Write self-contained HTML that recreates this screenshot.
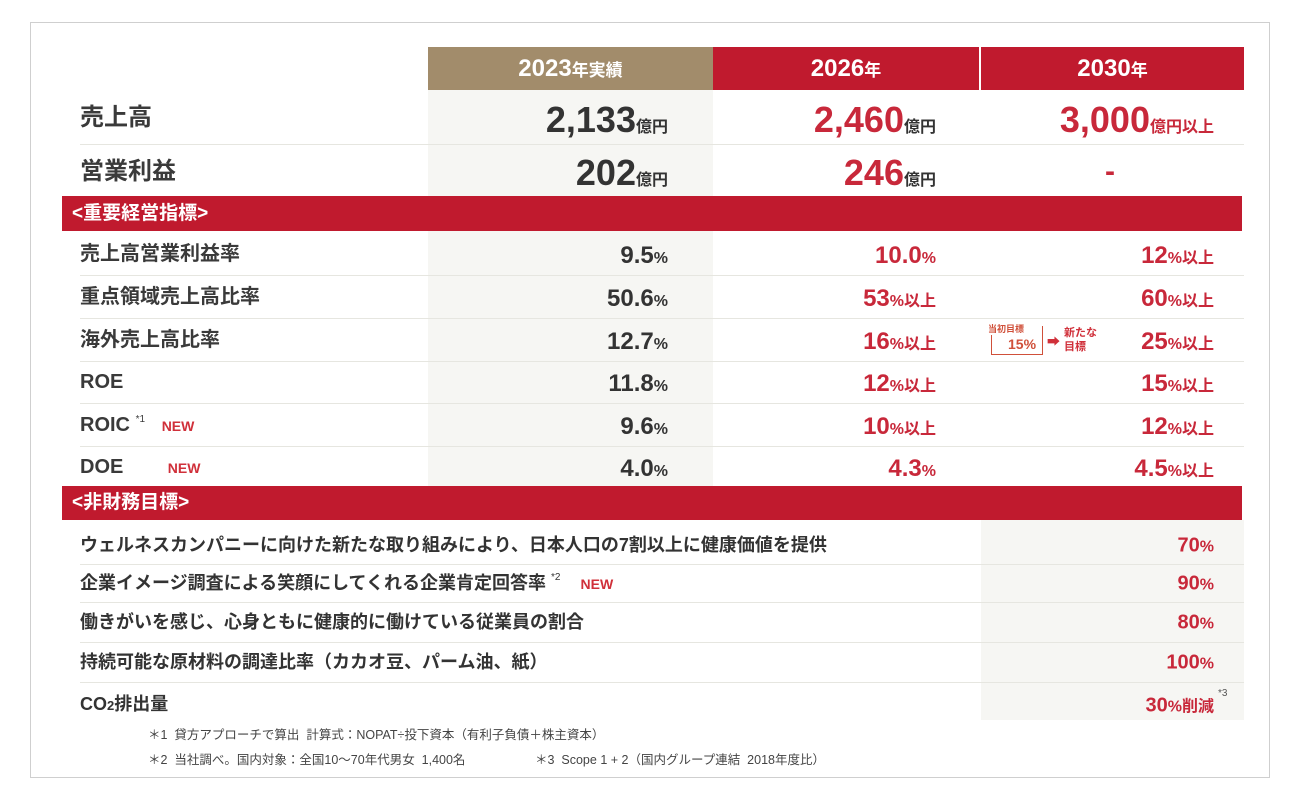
<!DOCTYPE html>
<html><head><meta charset="utf-8"><style>
body{margin:0;width:1300px;height:800px;background:#fff;position:relative;overflow:hidden;font-family:"Liberation Sans","Noto Sans CJK JP",sans-serif;color:#333}
.a{position:absolute;white-space:nowrap}
.box{position:absolute;left:30px;top:22px;width:1238px;height:754px;border:1px solid #cfcfcf}
.col{position:absolute;background:#f6f6f3}
.hd{position:absolute;top:47px;height:43px;color:#fff;font-weight:bold;font-size:24px;line-height:43px;text-align:center}
.band{position:absolute;left:62px;width:1180px;background:#c01a2e;color:#fff;font-weight:bold;font-size:19px;padding-left:10px;box-sizing:border-box}
.lb{position:absolute;left:80px;font-weight:bold;font-size:20px;color:#3a3a3a;transform:translateY(-50%);line-height:1;white-space:nowrap}
.sp{position:relative;top:-9px;font-size:10px;font-weight:normal}
.v{position:absolute;font-weight:bold;transform:translateY(-50%);text-align:right;white-space:nowrap}
.r{color:#c8283a}
.u{font-size:16px}
.new{color:#d0303a;font-size:14px;font-weight:bold}
.nf{position:absolute;left:80px;font-weight:bold;font-size:18px;color:#333;transform:translateY(-50%);white-space:nowrap;line-height:1}
.line{position:absolute;height:1px;background:#e6e6e0}
.fn{position:absolute;font-size:12.5px;color:#444;white-space:nowrap}
</style></head><body>
<div class="box"></div>
<div class="col" style="left:428px;top:90px;width:285px;height:106px"></div>
<div class="col" style="left:428px;top:231px;width:285px;height:255px"></div>
<div class="col" style="left:981px;top:520px;width:263px;height:200px"></div>
<div class="line" style="left:80px;top:144px;width:1164px"></div>
<div class="line" style="left:80px;top:275px;width:1164px"></div>
<div class="line" style="left:80px;top:318px;width:1164px"></div>
<div class="line" style="left:80px;top:361px;width:1164px"></div>
<div class="line" style="left:80px;top:403px;width:1164px"></div>
<div class="line" style="left:80px;top:446px;width:1164px"></div>
<div class="line" style="left:80px;top:564px;width:1164px"></div>
<div class="line" style="left:80px;top:602px;width:1164px"></div>
<div class="line" style="left:80px;top:642px;width:1164px"></div>
<div class="line" style="left:80px;top:682px;width:1164px"></div>
<div class="hd" style="left:428px;width:285px;background:#a28c6b">2023<span style="font-size:17px">年実績</span></div>
<div class="hd" style="left:713px;width:266px;background:#c01a2e">2026<span style="font-size:17px">年</span></div>
<div class="hd" style="left:981px;width:263px;background:#c01a2e">2030<span style="font-size:17px">年</span></div>

<div class="lb" style="top:118px;font-size:24px">売上高</div>
<div class="lb" style="top:172px;font-size:24px">営業利益</div>
<div class="v" style="right:632px;top:120px;font-size:36px">2,133<span class="u">億円</span></div>
<div class="v" style="right:632px;top:173px;font-size:36px">202<span class="u">億円</span></div>
<div class="v r" style="right:364px;top:120px;font-size:36px">2,460<span class="u" style="color:#333">億円</span></div>
<div class="v r" style="right:364px;top:173px;font-size:36px">246<span class="u" style="color:#333">億円</span></div>
<div class="v r" style="right:86px;top:120px;font-size:36px">3,000<span class="u">億円以上</span></div>
<div class="v r" style="left:1105px;top:172px;font-size:30px">-</div>

<div class="band" style="top:196px;height:35px;line-height:35px">&lt;重要経営指標&gt;</div>
<div class="lb" style="top:254px">売上高営業利益率</div>
<div class="lb" style="top:297px">重点領域売上高比率</div>
<div class="lb" style="top:340px">海外売上高比率</div>
<div class="lb" style="top:382px">ROE</div>
<div class="lb" style="top:425px">ROIC <span class="sp">*1</span> &nbsp;&nbsp;<span class="new">NEW</span></div>
<div class="lb" style="top:467px">DOE &nbsp;&nbsp;&nbsp;&nbsp;&nbsp;&nbsp;&nbsp;<span class="new">NEW</span></div>

<div class="v" style="right:632px;top:256px;font-size:24px">9.5<span class="u">%</span></div>
<div class="v" style="right:632px;top:299px;font-size:24px">50.6<span class="u">%</span></div>
<div class="v" style="right:632px;top:342px;font-size:24px">12.7<span class="u">%</span></div>
<div class="v" style="right:632px;top:384px;font-size:24px">11.8<span class="u">%</span></div>
<div class="v" style="right:632px;top:427px;font-size:24px">9.6<span class="u">%</span></div>
<div class="v" style="right:632px;top:469px;font-size:24px">4.0<span class="u">%</span></div>

<div class="v r" style="right:364px;top:256px;font-size:24px">10.0<span class="u">%</span></div>
<div class="v r" style="right:364px;top:299px;font-size:24px">53<span class="u">%以上</span></div>
<div class="v r" style="right:364px;top:342px;font-size:24px">16<span class="u">%以上</span></div>
<div class="v r" style="right:364px;top:384px;font-size:24px">12<span class="u">%以上</span></div>
<div class="v r" style="right:364px;top:427px;font-size:24px">10<span class="u">%以上</span></div>
<div class="v r" style="right:364px;top:469px;font-size:24px">4.3<span class="u">%</span></div>

<div class="v r" style="right:86px;top:256px;font-size:24px">12<span class="u">%以上</span></div>
<div class="v r" style="right:86px;top:299px;font-size:24px">60<span class="u">%以上</span></div>
<div class="v r" style="right:86px;top:342px;font-size:24px">25<span class="u">%以上</span></div>
<div class="v r" style="right:86px;top:384px;font-size:24px">15<span class="u">%以上</span></div>
<div class="v r" style="right:86px;top:427px;font-size:24px">12<span class="u">%以上</span></div>
<div class="v r" style="right:86px;top:469px;font-size:24px">4.5<span class="u">%以上</span></div>

<div class="a" style="left:991px;top:326px;width:50px;height:28px;border:1.5px solid #d0503a;border-top:none"></div>
<div class="a" style="left:988px;top:322px;font-size:9px;font-weight:bold;color:#d0503a;background:#fff">当初目標</div>
<div class="a" style="left:1008px;top:336px;font-size:14px;font-weight:bold;color:#d0503a">15%</div>
<div class="a" style="left:1047px;top:331px;font-size:13px;color:#d0303a">➡</div>
<div class="a" style="left:1064px;top:326px;font-size:11px;font-weight:bold;color:#d0303a;line-height:14px">新たな<br>目標</div>

<div class="band" style="top:486px;height:34px;line-height:34px">&lt;非財務目標&gt;</div>
<div class="nf" style="top:545px">ウェルネスカンパニーに向けた新たな取り組みにより、日本人口の7割以上に健康価値を提供</div>
<div class="nf" style="top:583px">企業イメージ調査による笑顔にしてくれる企業肯定回答率 <span class="sp">*2</span> &nbsp;&nbsp;&nbsp;<span class="new">NEW</span></div>
<div class="nf" style="top:622px">働きがいを感じ、心身ともに健康的に働けている従業員の割合</div>
<div class="nf" style="top:662px">持続可能な原材料の調達比率（カカオ豆、パーム油、紙）</div>
<div class="nf" style="top:704px">CO<span style="font-size:13px">2</span>排出量</div>

<div class="v r" style="right:86px;top:546px;font-size:20px">70<span class="u">%</span></div>
<div class="v r" style="right:86px;top:584px;font-size:20px">90<span class="u">%</span></div>
<div class="v r" style="right:86px;top:623px;font-size:20px">80<span class="u">%</span></div>
<div class="v r" style="right:86px;top:663px;font-size:20px">100<span class="u">%</span></div>
<div class="v r" style="right:86px;top:705px;font-size:20px">30<span class="u">%削減</span></div>
<div class="a" style="left:1218px;top:688px;font-size:10px;color:#555">*3</div>

<div class="fn" style="left:148px;top:724px">＊1 &nbsp;貸方アプローチで算出 &nbsp;計算式：NOPAT÷投下資本（有利子負債＋株主資本）</div>
<div class="fn" style="left:148px;top:749px">＊2 &nbsp;当社調べ。国内対象：全国10～70年代男女 &nbsp;1,400名</div>
<div class="fn" style="left:535px;top:749px">＊3 &nbsp;Scope 1 + 2（国内グループ連結 &nbsp;2018年度比）</div>
</body></html>
